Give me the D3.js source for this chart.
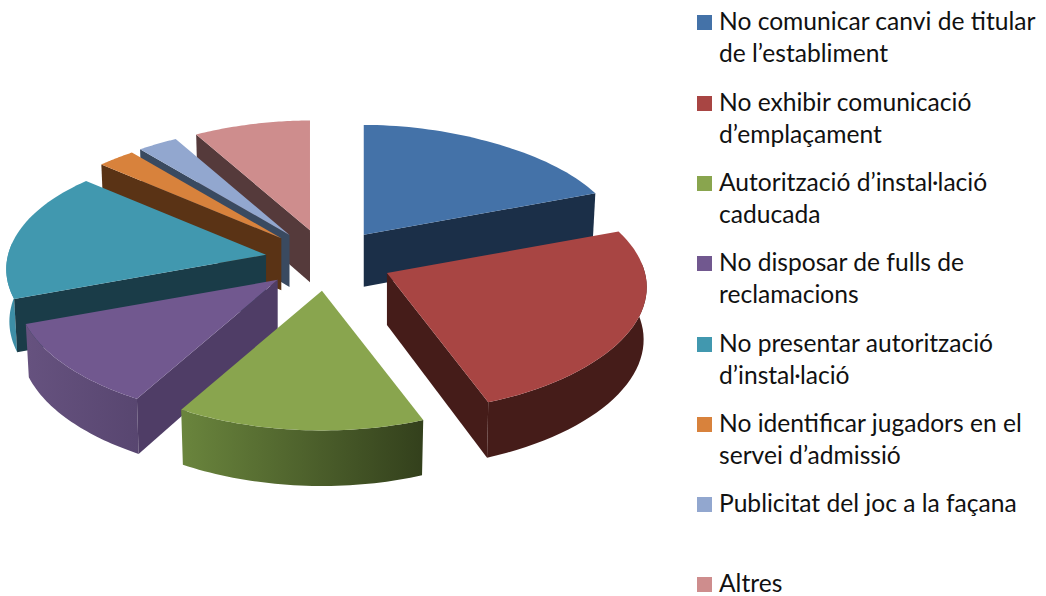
<!DOCTYPE html>
<html><head><meta charset="utf-8">
<script src="https://cdn.jsdelivr.net/npm/d3@7"></script>
<style>html,body{margin:0;padding:0;background:#fff}svg{display:block}text{font-family:Lato,sans-serif;font-size:24.6px;fill:#111}</style>
</head><body><svg id="c" width="1046" height="596"></svg>
<script>
const categories=["No comunicar canvi de titular de l’establiment","No exhibir comunicació d’emplaçament","Autorització d’instal·lació caducada","No disposar de fulls de reclamacions","No presentar autorització d’instal·lació","No identificar jugadors en el servei d’admissió","Publicitat del joc a la façana","Altres"];
const values=[19.3,24.9,14.1,11.1,16.8,2.55,2.75,8.5];
const explode=[0.25,0.255,0.25,0.25,0.24,0.25,0.25,0.25];
const legendLines=[["No comunicar canvi de titular","de l’establiment"],["No exhibir comunicació","d’emplaçament"],["Autorització d’instal·lació","caducada"],["No disposar de fulls de","reclamacions"],["No presentar autorització","d’instal·lació"],["No identificar jugadors en el","servei d’admissió"],["Publicitat del joc a la façana"],["Altres"]];
const legendY=[30,111,191,271,352,432,512,592];
const topColors=["#4472a8","#a84543","#89a54e","#71588f","#4198af","#d8823c","#92a7cf","#ce8d8d"];
const wallColors=["#1b2f48","#451c19","#4e5f2a","#4f3d66","#1a3c48","#5a3315","#3a4a60","#553a3b"];
const outerFrom=["#1b2f48","#451c19","#6a853d","#66527f","#3d8ea6","#5a3315","#3a4a60","#553a3b"];
const outerTo=["#1b2f48","#451c19","#33401c","#584670","#3d8ea6","#5a3315","#3a4a60","#553a3b"];

const svg=d3.select("#c"), defs=svg.append("defs");
const cx=327, cy=260, R=258, H=123, k=0.12, D=52;
const color=d3.scaleOrdinal().domain(categories).range(topColors);
const arcs=d3.pie().sort(null).value(d=>d)(values).map((a,i)=>({...a,i,mid:(a.startAngle+a.endAngle)/2}));
const proj=(a,d,r,z)=>{
  const m=d.mid,E=explode[d.i];
  const u=Math.sin(a)*r, v=-Math.cos(a)*r, s=1/(1-k*v);
  const ox=cx+R*E*Math.sin(m), oy=cy-H*E*Math.cos(m);
  const f=v<0?1-0.08*v*v*v*v:1-0.025*v*v;
  return [ox+R*u*s*f*(1-0.012*z), oy+H*v*s+D*z*(1+(s-1)*0.5)];
};
const line=d3.line();
const pts=(a0,a1)=>d3.range(0,41).map(j=>a0+(a1-a0)*j/40);
const order=arcs.slice().sort((a,b)=>Math.cos(b.mid)-Math.cos(a.mid));
order.forEach(d=>{
  const g=svg.append("g");
  const a0=d.startAngle,a1=d.endAngle;
  const ang=pts(a0,a1);
  const vis=ang.filter(a=>Math.cos(a)<0.12);
  if(vis.length>1){
    const id="g"+d.i;
    const top=vis.map(a=>proj(a,d,1,0)), bot=vis.map(a=>proj(a,d,1,1)).reverse();
    const xs=top.map(p=>p[0]);
    const gr=defs.append("linearGradient").attr("id",id).attr("gradientUnits","userSpaceOnUse")
      .attr("x1",d3.min(xs)).attr("x2",d3.max(xs)).attr("y1",0).attr("y2",0);
    gr.append("stop").attr("offset",0).attr("stop-color",outerFrom[d.i]);
    gr.append("stop").attr("offset",1).attr("stop-color",outerTo[d.i]);
    g.append("path").attr("d",line(top.concat(bot))+"Z").attr("fill",`url(#${id})`);
  }
  const wall=a=>[proj(a,d,0,0),proj(a,d,1,0),proj(a,d,1,1),proj(a,d,0,1)];
  if(Math.sin(a0)<0.02) g.append("path").attr("d",line(wall(a0))+"Z").attr("fill",wallColors[d.i]);
  if(Math.sin(a1)>0.02) g.append("path").attr("d",line(wall(a1))+"Z").attr("fill",wallColors[d.i]);
  const t=[proj(a0,d,0,0)].concat(ang.map(a=>proj(a,d,1,0)));
  g.append("path").attr("d",line(t)+"Z").attr("fill",color(categories[d.i]));
});
categories.forEach((c,i)=>{
  const g=svg.append("g").attr("transform",`translate(0,${legendY[i]})`);
  g.append("rect").attr("x",697).attr("y",-15).attr("width",15).attr("height",15).attr("fill",color(c));
  const lh=32;
  legendLines[i].forEach((l,j)=>g.append("text").attr("x",719).attr("y",j*lh).text(l));
});
</script></body></html>
